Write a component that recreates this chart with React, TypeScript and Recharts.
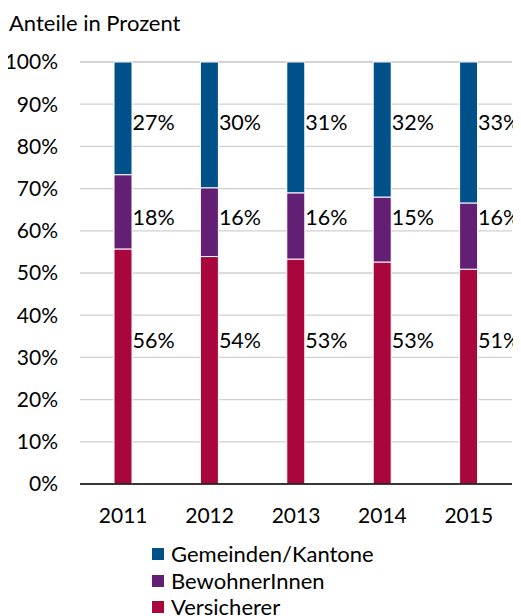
import React from 'react';
import { BarChart, Bar, XAxis, YAxis, CartesianGrid } from 'recharts';

const years = ['2011', '2012', '2013', '2014', '2015'];
const versicherer = [55.7, 53.9, 53.3, 52.6, 50.9];
const bewohner = [17.6, 16.3, 15.7, 15.4, 15.7];
const gemeinden = [26.7, 29.8, 31.0, 32.0, 33.4];
const yTicks = [0, 10, 20, 30, 40, 50, 60, 70, 80, 90, 100];

const data = years.map((y, i) => ({
  year: y,
  versicherer: versicherer[i],
  bewohner: bewohner[i],
  gemeinden: gemeinden[i],
}));

const FONT = 'Lato, "Open Sans", sans-serif';
const W = 513;
const H = 608;
const X_AXIS_H = 30;
const M = { top: 54, right: 9, left: 0, bottom: 102 };
const PLOT_TOP = M.top;
const PLOT_H = H - M.top - M.bottom - X_AXIS_H;
const PLOT_BOTTOM = PLOT_TOP + PLOT_H;

const COLORS = { gemeinden: '#00508a', bewohner: '#621f73', versicherer: '#a8063c' };

const makeLabel = (series: number[], level: number) => (props: any) => {
  const { x, width, index } = props;
  const ly = PLOT_BOTTOM - (level / 100) * PLOT_H;
  return (
    <text
      x={Number(x) + Number(width) + 0.5}
      y={ly}
      textAnchor="start"
      dominantBaseline="central"
      fontFamily={FONT}
      fontSize={21.5}
      fill="#000"
    >
      {Math.round(series[index])}%
    </text>
  );
};

const legendItems = [
  { key: 'gemeinden', name: 'Gemeinden/Kantone' },
  { key: 'bewohner', name: 'BewohnerInnen' },
  { key: 'versicherer', name: 'Versicherer' },
];

const LegendBox = () => (
  <div style={{ position: 'absolute', left: 144, top: 533, fontFamily: FONT, fontSize: 22, color: '#000' }}>
    {legendItems.map((it) => (
      <div key={it.key} style={{ display: 'flex', alignItems: 'center', height: 26.5, lineHeight: '26.5px' }}>
        <span style={{ display: 'inline-block', width: 12, height: 12, background: (COLORS as any)[it.key], marginRight: 7 }} />
        <span>{it.name}</span>
      </div>
    ))}
  </div>
);

export default function App() {
  return (
    <div style={{ position: 'relative', width: W, height: H }}>
      <div style={{ position: 'absolute', left: 1, top: 3, fontFamily: FONT, fontSize: 22, color: '#000', lineHeight: '24px' }}>
        Anteile in Prozent
      </div>
      <BarChart width={W} height={H} data={data} margin={M} barSize={18}>
        <CartesianGrid vertical={false} stroke="#d0d0d0" strokeWidth={1.3} />
        <XAxis
          dataKey="year"
          height={X_AXIS_H}
          axisLine={{ stroke: '#000', strokeWidth: 1.3 }}
          tickLine={false}
          tickSize={0}
          tickMargin={24}
          tick={{ fontFamily: FONT, fontSize: 21, fill: '#000' }}
          interval={0}
        />
        <YAxis
          width={72}
          domain={[0, 100]}
          ticks={yTicks}
          tickFormatter={(v: number) => `${v}%`}
          axisLine={false}
          tickLine={false}
          tickSize={0}
          tickMargin={22}
          tick={{ fontFamily: FONT, fontSize: 21, fill: '#000' }}
          interval={0}
        />
        <Bar dataKey="versicherer" name="Versicherer" stackId="a" fill={COLORS.versicherer} stroke="#fff" strokeWidth={1} isAnimationActive={false} label={makeLabel(versicherer, 34.1)} />
        <Bar dataKey="bewohner" name="BewohnerInnen" stackId="a" fill={COLORS.bewohner} stroke="#fff" strokeWidth={1} isAnimationActive={false} label={makeLabel(bewohner, 63.3)} />
        <Bar dataKey="gemeinden" name="Gemeinden/Kantone" stackId="a" fill={COLORS.gemeinden} stroke="#fff" strokeWidth={1} isAnimationActive={false} label={makeLabel(gemeinden, 85.8)} />
      </BarChart>
      <LegendBox />
    </div>
  );
}
